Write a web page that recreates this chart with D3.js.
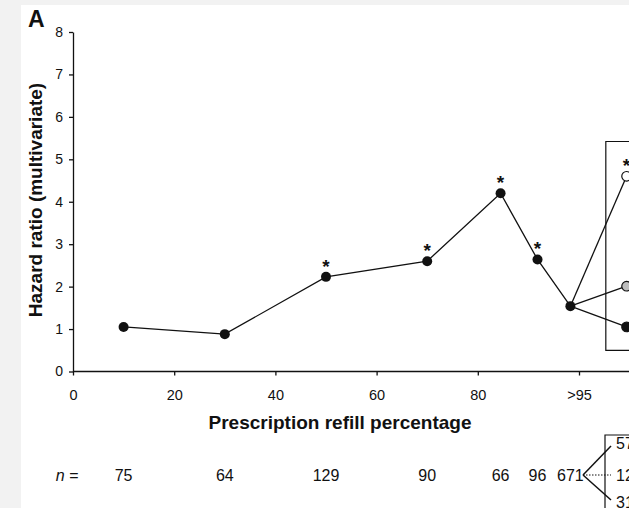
<!DOCTYPE html>
<html>
<head>
<meta charset="utf-8">
<script src="https://cdn.jsdelivr.net/npm/d3@7"></script>
<style>
  html, body { margin: 0; padding: 0; background: #f2f2f2; }
  svg { display: block; }
  text { font-family: "Liberation Sans", Arial, Helvetica, sans-serif; fill: #111; }
</style>
</head>
<body>
<svg id="chart" width="629" height="508"></svg>
<script>
// ---- data ----
const refillX      = [10, 30, 50, 70, 84.5, 91.8, 98.3];
const hazardRatio  = [1.05, 0.88, 2.23, 2.60, 4.20, 2.64, 1.54];
const significant  = [false, false, true, true, true, true, false];
const nCounts      = ["75", "64", "129", "90", "66", "96", "671"];

const subgroupX    = 109.4;
const subgroupHR   = [4.60, 2.01, 1.05];
const subgroupFill = ["#ffffff", "#bdbdbd", "#111111"];
const subgroupSig  = [true, false, false];
const subgroupN    = ["57", "12", "31"];

const xTickValues  = [0, 20, 40, 60, 80, 100];
const xTickLabels  = ["0", "20", "40", "60", "80", ">95"];
const yTickValues  = [0, 1, 2, 3, 4, 5, 6, 7, 8];

// ---- setup ----
const W = 629, H = 508;
const svg = d3.select("#chart");

svg.append("rect").attr("x", 0).attr("y", 0).attr("width", W).attr("height", H).attr("fill", "#f2f2f2");
svg.append("rect").attr("x", 21).attr("y", 5).attr("width", W - 21).attr("height", H - 5).attr("fill", "#ffffff");

const x = d3.scaleLinear().domain([0, 100]).range([73, 579]);
const y = d3.scaleLinear().domain([0, 8]).range([371.5, 32]);

// panel letter
svg.append("text").attr("x", 28).attr("y", 27)
  .style("font-size", "23px").style("font-weight", "bold").text("A");

// y axis
const yAxis = d3.axisLeft(y).tickValues(yTickValues).tickFormat(d3.format("d"))
  .tickSize(4).tickSizeOuter(0).tickPadding(6);
const gy = svg.append("g").attr("transform", `translate(${x(0)},0)`).call(yAxis);
gy.selectAll("text").style("font-size", "14px").style("fill", "#111");
gy.selectAll("line, path").attr("stroke", "#111").attr("stroke-width", 1.3);

// x axis
const xAxis = d3.axisBottom(x).tickValues(xTickValues)
  .tickFormat((d, i) => xTickLabels[i]).tickSize(4).tickSizeOuter(0).tickPadding(14);
const gx = svg.append("g").attr("transform", `translate(0,${y(0)})`).call(xAxis);
gx.select(".domain").remove();
gx.selectAll("text").style("font-size", "14.5px").style("fill", "#111");
gx.selectAll("line").attr("stroke", "#111").attr("stroke-width", 1.3);
svg.append("line").attr("x1", x(0)).attr("x2", x(112)).attr("y1", y(0)).attr("y2", y(0))
  .attr("stroke", "#111").attr("stroke-width", 1.3);

// axis titles
svg.append("text").attr("x", 340).attr("y", 428.5).attr("text-anchor", "middle")
  .style("font-size", "19px").style("font-weight", "bold").text("Prescription refill percentage");
svg.append("text").attr("transform", "translate(42,200) rotate(-90)").attr("text-anchor", "middle")
  .style("font-size", "19px").style("font-weight", "bold").text("Hazard ratio (multivariate)");

// subgroup box (upper)
svg.append("path")
  .attr("d", `M${x(112)},${y(5.42)} H${x(105.3)} V${y(0.5)} H${x(112)}`)
  .attr("fill", "none").attr("stroke", "#111").attr("stroke-width", 1.2);

// main line
const pts = refillX.map((d, i) => [x(d), y(hazardRatio[i])]);
svg.append("path").attr("d", d3.line()(pts))
  .attr("fill", "none").attr("stroke", "#111").attr("stroke-width", 1.3);

// branches to subgroup points
const last = pts[pts.length - 1];
subgroupHR.forEach(v => {
  svg.append("line").attr("x1", last[0]).attr("y1", last[1])
    .attr("x2", x(subgroupX)).attr("y2", y(v))
    .attr("stroke", "#111").attr("stroke-width", 1.3);
});

// main points
svg.selectAll("circle.main").data(refillX).enter().append("circle")
  .attr("class", "main")
  .attr("cx", d => x(d)).attr("cy", (d, i) => y(hazardRatio[i]))
  .attr("r", 5).attr("fill", "#111");

// subgroup points
svg.selectAll("circle.sub").data(subgroupHR).enter().append("circle")
  .attr("class", "sub")
  .attr("cx", x(subgroupX)).attr("cy", d => y(d))
  .attr("r", 4.8).attr("fill", (d, i) => subgroupFill[i])
  .attr("stroke", "#111").attr("stroke-width", 1.2);

// asterisks
refillX.forEach((d, i) => {
  if (!significant[i]) return;
  svg.append("text").attr("x", x(d)).attr("y", y(hazardRatio[i]) - 4)
    .attr("text-anchor", "middle").style("font-size", "19px").style("font-weight", "bold").text("*");
});
subgroupHR.forEach((v, i) => {
  if (!subgroupSig[i]) return;
  svg.append("text").attr("x", x(subgroupX)).attr("y", y(v) - 4)
    .attr("text-anchor", "middle").style("font-size", "19px").style("font-weight", "bold").text("*");
});

// n row
const nY = 475;
svg.append("text").attr("x", 67).attr("y", nY).attr("dy", "0.35em").attr("text-anchor", "middle")
  .style("font-size", "16px").style("font-style", "italic").text("n =");
refillX.forEach((d, i) => {
  svg.append("text").attr("x", x(d)).attr("y", nY).attr("dy", "0.35em").attr("text-anchor", "middle")
    .style("font-size", "16px").text(nCounts[i]);
});

// subgroup n box (lower)
svg.append("path").attr("d", `M${x(112)},435 H605 V${H + 5}`)
  .attr("fill", "none").attr("stroke", "#111").attr("stroke-width", 1.2);
const fanX = 583;
const subNY = [446, 475, 500];
subNY.forEach((yy, i) => {
  svg.append("line").attr("x1", fanX).attr("y1", nY).attr("x2", 611).attr("y2", yy)
    .attr("stroke", "#111").attr("stroke-width", i === 1 ? 1.2 : 1.5)
    .attr("stroke-dasharray", i === 1 ? "1.5,1.5" : null);
  svg.append("text").attr("x", 616).attr("y", yy - (i === 0 ? 3 : (i === 2 ? -2 : 0))).attr("dy", "0.35em")
    .style("font-size", "16px").text(subgroupN[i]);
});
</script>
</body>
</html>
